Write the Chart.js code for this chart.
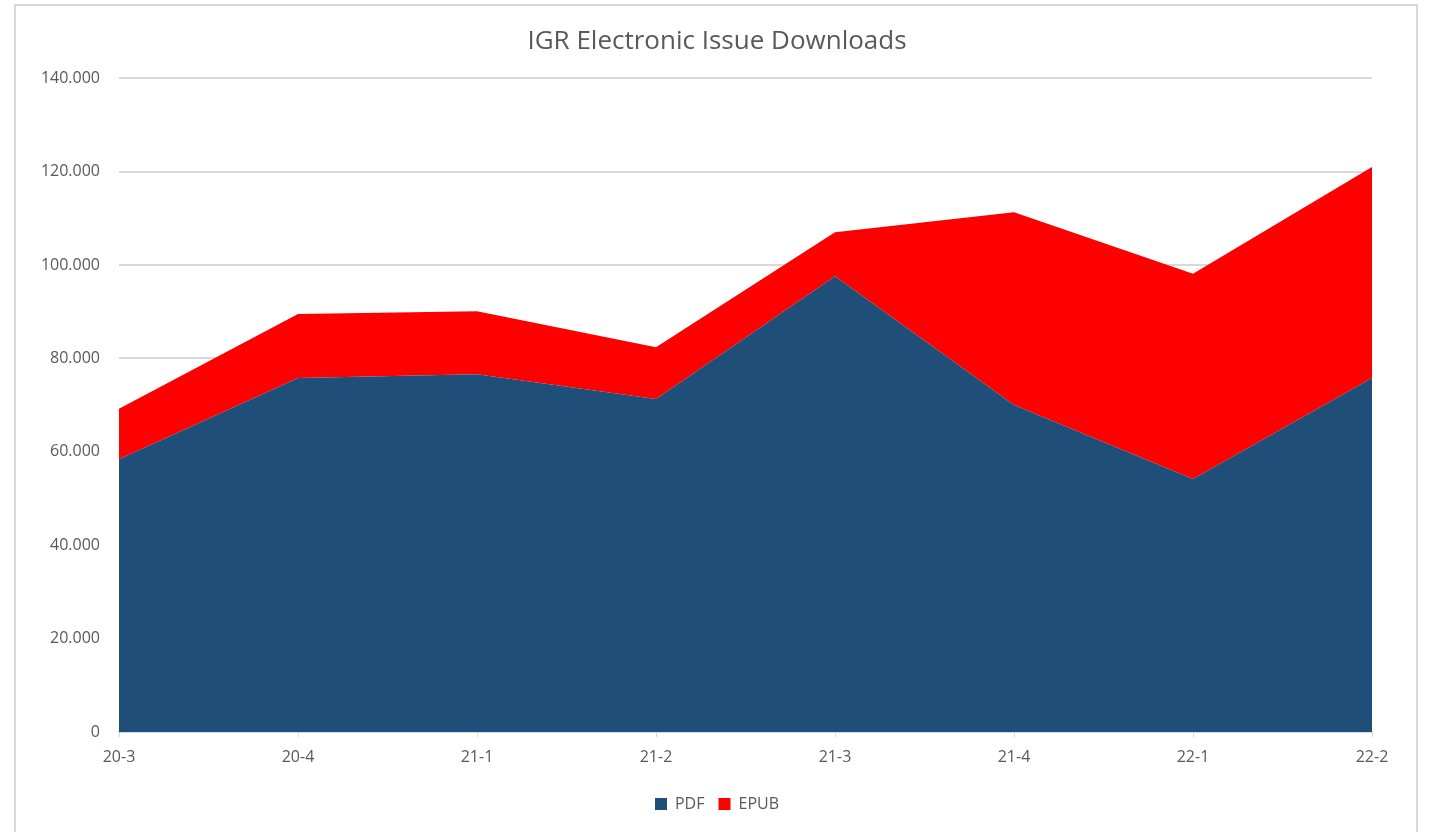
<!DOCTYPE html>
<html>
<head>
<meta charset="utf-8">
<title>IGR Electronic Issue Downloads</title>
<script src="https://cdn.jsdelivr.net/npm/chart.js@4.4.1/dist/chart.umd.min.js"></script>
<style>
  html, body { margin: 0; padding: 0; background: #fff; }
  #wrap { position: relative; width: 1429px; height: 832px; }
  #frame {
    position: absolute; left: 14px; top: 4px; width: 1400px; height: 840px;
    border: 2px solid #d9d9d9; pointer-events: none;
  }
  canvas { position: absolute; left: 0; top: 0; }
</style>
</head>
<body>
<div id="wrap">
  <canvas id="chart" width="1429" height="832"></canvas>
  <div id="frame"></div>
</div>
<script>
// issues (year-quarter)
var labels = ['20-3', '20-4', '21-1', '21-2', '21-3', '21-4', '22-1', '22-2'];
// downloads per format
var pdfDownloads = [58400, 75800, 76600, 71300, 97600, 70000, 54200, 75800];
var epubDownloads = [10800, 13700, 13500, 11100, 9400, 41300, 43900, 45200];
var yTicks = [0, 20000, 40000, 60000, 80000, 100000, 120000, 140000];

var textColor = '#595959';
var gridColor = '#d9d9d9';
var font = 'Open Sans, Noto Sans, sans-serif';

function fmt(v) {
    return String(v).replace(/\B(?=(\d{3})+(?!\d))/g, '.');
}

var ctx = document.getElementById('chart').getContext('2d');
var chart = new Chart(ctx, {
    type: 'line',
    data: {
        labels: labels,
        datasets: [{
            label: 'PDF',
            data: pdfDownloads,
            backgroundColor: '#1f4e79',
            borderColor: '#1f4e79',
            borderWidth: 0,
            fill: 'origin',
            pointRadius: 0,
            tension: 0
        }, {
            label: 'EPUB',
            data: epubDownloads,
            backgroundColor: '#ff0000',
            borderColor: '#ff0000',
            borderWidth: 0,
            fill: '-1',
            pointRadius: 0,
            tension: 0
        }]
    },
    options: {
        responsive: false,
        animation: false,
        layout: { padding: { left: 31, right: 26, top: 0, bottom: 10 } },
        plugins: {
            title: {
                display: true,
                text: 'IGR Electronic Issue Downloads',
                color: textColor,
                font: { family: font, size: 26, weight: 'normal' },
                padding: { top: 26, bottom: 21 }
            },
            legend: {
                position: 'bottom',
                labels: {
                    color: textColor,
                    font: { family: font, size: 16 },
                    boxWidth: 12,
                    boxHeight: 12,
                    padding: 14
                }
            },
            tooltip: { enabled: false }
        },
        scales: {
            x: {
                offset: false,
                grid: { drawOnChartArea: false, drawTicks: true, tickLength: 5, color: gridColor },
                border: { display: true, color: gridColor, width: 2 },
                ticks: { color: textColor, font: { family: font, size: 16 }, padding: 11, maxRotation: 0 },
                afterFit: function(scale) { scale.height = 50; }
            },
            y: {
                stacked: true,
                min: 0,
                max: 140000,
                afterBuildTicks: function(scale) {
                    scale.ticks = yTicks.map(function(v) { return { value: v }; });
                },
                grid: { color: gridColor, lineWidth: 2, drawTicks: false },
                border: { display: false },
                ticks: {
                    color: textColor,
                    font: { family: font, size: 16 },
                    padding: 19,
                    callback: function(v) { return fmt(v); }
                },
                afterFit: function(scale) { scale.width = 88; }
            },
            // empty right margin so title and legend centre on the frame
            yRight: {
                position: 'right',
                display: true,
                grid: { display: false },
                border: { display: false },
                ticks: { display: false },
                afterFit: function(scale) { scale.width = 31; }
            }
        }
    }
});
</script>
</body>
</html>
